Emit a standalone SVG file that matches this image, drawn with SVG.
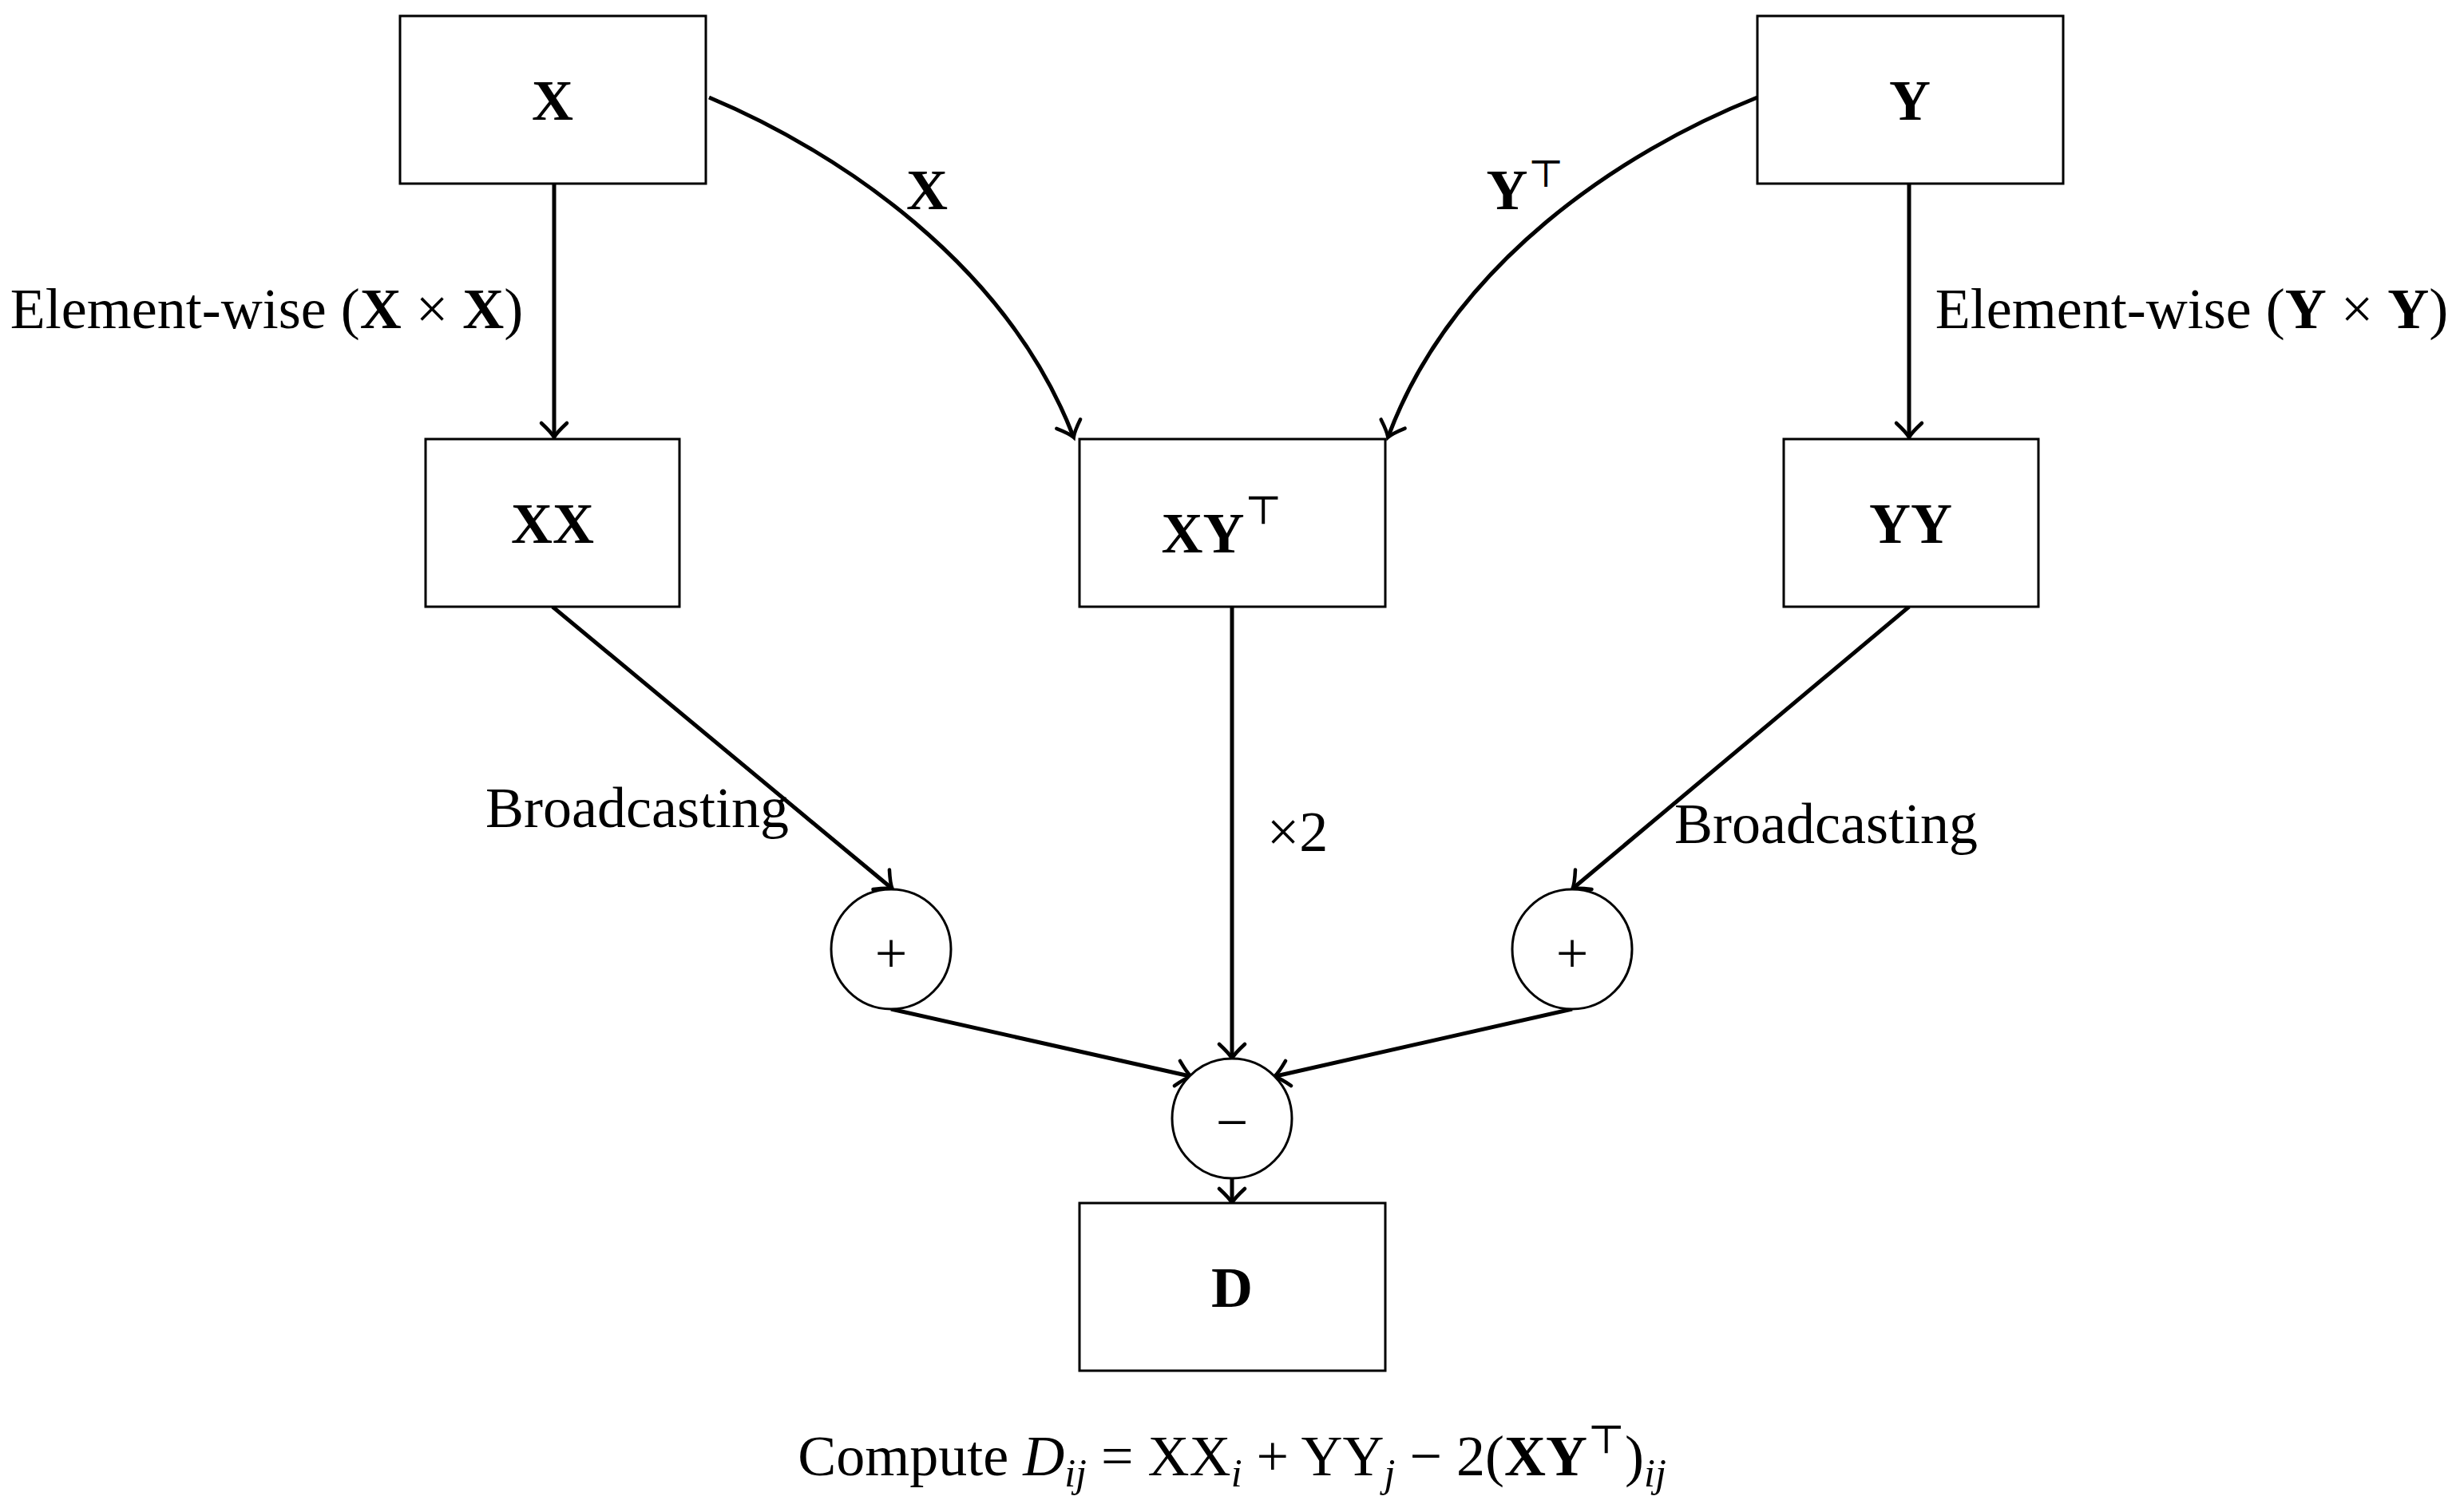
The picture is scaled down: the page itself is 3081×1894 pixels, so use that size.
<svg xmlns="http://www.w3.org/2000/svg" width="3081" height="1894" viewBox="0 0 3081 1894">
<style>
.b{fill:#fff;stroke:#000;stroke-width:3}
.c{fill:none;stroke:#000;stroke-width:5;marker-end:url(#a)}
text{font-family:"Liberation Serif","DejaVu Serif",serif;fill:#000}
.n{font-size:72px;font-weight:bold;text-anchor:middle}
.l{font-size:72px;text-anchor:middle}
</style>
<defs>
<marker id="a" markerUnits="userSpaceOnUse" markerWidth="40" markerHeight="40" viewBox="-20 -20 40 40" refX="0" refY="0" orient="auto">
<path d="M-16,-16 Q-4,-3 2,0 Q-4,3 -16,16" fill="none" stroke="#000" stroke-width="4.5" stroke-linecap="round"/>
</marker>
</defs>
<rect width="3081" height="1894" fill="#fff"/>
<g id="connectors">
<path class="c" d="M694,230 L694,546"/>
<path class="c" d="M2391,230 L2391,546"/>
<path class="c" d="M888,122 C1050,190 1260,330 1344,546"/>
<path class="c" d="M2201,122 C2030,190 1820,330 1739,546"/>
<path class="c" d="M692,760 L1116,1112"/>
<path class="c" d="M1543,760 L1543,1324"/>
<path class="c" d="M2391,760 L1971,1112"/>
<path class="c" d="M1116,1264 L1490,1348"/>
<path class="c" d="M1969,1264 L1598,1348"/>
<path class="c" d="M1543,1476 L1543,1505"/>
<text class="l" x="334" y="411">Element-wise (<tspan font-weight="bold">X</tspan> × <tspan font-weight="bold">X</tspan>)</text>
<text class="l" x="2745" y="411">Element-wise (<tspan font-weight="bold">Y</tspan> × <tspan font-weight="bold">Y</tspan>)</text>
<text class="l" x="1161" y="262" font-weight="bold">X</text>
<text class="l" x="1910" y="262"><tspan font-weight="bold">Y</tspan><tspan font-size="48" dy="-28">⊤</tspan></text>
<text class="l" x="798" y="1036">Broadcasting</text>
<text class="l" x="2287" y="1056">Broadcasting</text>
<text class="l" x="1625" y="1066">×2</text>
<text class="l" x="1543" y="1848" font-size="76">Compute <tspan font-style="italic">D</tspan><tspan font-style="italic" font-size="50" dy="14">ij</tspan><tspan dy="-14"> = XX</tspan><tspan font-style="italic" font-size="50" dy="14">i</tspan><tspan dy="-14"> + YY</tspan><tspan font-style="italic" font-size="50" dy="14">j</tspan><tspan dy="-14"> − 2(</tspan><tspan font-weight="bold">XY</tspan><tspan font-size="50" dy="-28">⊤</tspan><tspan dy="28">)</tspan><tspan font-style="italic" font-size="50" dy="14">ij</tspan></text>
</g>
<g id="X"><rect class="b" x="501" y="20" width="383" height="210"/><text class="n" x="692" y="150">X</text></g>
<g id="Y"><rect class="b" x="2201" y="20" width="383" height="210"/><text class="n" x="2392" y="150">Y</text></g>
<g id="XX"><rect class="b" x="533" y="550" width="318" height="210"/><text class="n" x="692" y="680">XX</text></g>
<g id="XYT"><rect class="b" x="1352" y="550" width="383" height="210"/><text class="n" x="1530" y="692">XY<tspan font-weight="normal" font-size="50" dy="-36">⊤</tspan></text></g>
<g id="YY"><rect class="b" x="2234" y="550" width="319" height="210"/><text class="n" x="2393" y="680">YY</text></g>
<g id="plus1"><circle class="b" cx="1116" cy="1189" r="75"/><text class="l" x="1116" y="1218" font-size="90">+</text></g>
<g id="plus2"><circle class="b" cx="1969" cy="1189" r="75"/><text class="l" x="1969" y="1218" font-size="90">+</text></g>
<g id="minus"><circle class="b" cx="1543" cy="1401" r="75"/><text class="l" x="1543" y="1430" font-size="90">−</text></g>
<g id="D"><rect class="b" x="1352" y="1507" width="383" height="210"/><text class="n" x="1543" y="1637">D</text></g>
</svg>
